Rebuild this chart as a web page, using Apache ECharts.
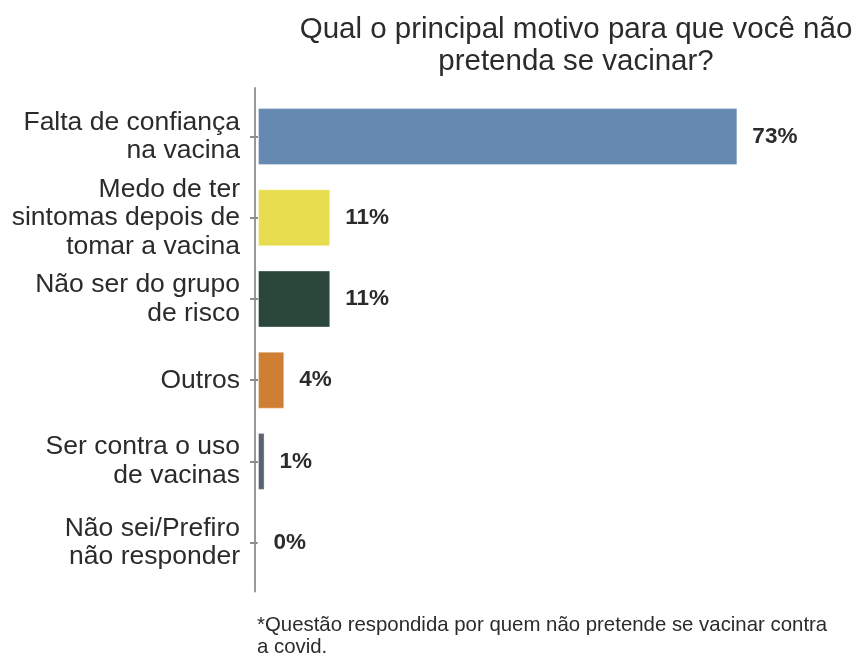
<!DOCTYPE html>
<html>
<head>
<meta charset="utf-8">
<script src="https://cdn.jsdelivr.net/npm/echarts@6/dist/echarts.min.js"></script>
<style>html,body{margin:0;padding:0;background:#fff}#c{width:856px;height:656px}</style>
</head>
<body>
<div id="c"></div>
<script>
const categories = [
  "Falta de confiança\nna vacina",
  "Medo de ter\nsintomas depois de\ntomar a vacina",
  "Não ser do grupo\nde risco",
  "Outros",
  "Ser contra o uso\nde vacinas",
  "Não sei/Prefiro\nnão responder"
];
const values = [73, 11, 11, 4, 1, 0];
const barColors = ["#6689b1", "#e8dc4f", "#2b473c", "#cf7f33", "#5c6370", "#999999"];
const titleText = "Qual o principal motivo para que você não\npretenda se vacinar?";
const noteText = "*Questão respondida por quem não pretende se vacinar contra\na covid.";

const chart = echarts.init(document.getElementById('c'), null, {renderer: 'canvas'});
const FONT = '"Liberation Sans", Arial, sans-serif';
chart.setOption({
  animation: false,
  backgroundColor: '#ffffff',
  textStyle: {fontFamily: FONT},
  title: [{
    text: titleText,
    left: 571, top: 9, textAlign: 'center',
    textStyle: {fontFamily: FONT, fontSize: 29.5, fontWeight: 'normal', color: '#2b2b2b', lineHeight: 32, align: 'center'}
  }, {
    text: noteText,
    left: 252, top: 609,
    textStyle: {fontFamily: FONT, fontSize: 20.4, fontWeight: 'normal', color: '#2b2b2b', lineHeight: 22}
  }],
  grid: [
    {left: 258, top: 96, width: 591, height: 487.2, containLabel: false},
    {left: 255, top: 88, width: 591, height: 503.4, containLabel: false}
  ],
  xAxis: [
    {gridIndex: 0, type: 'value', min: 0, max: 90, show: false},
    {gridIndex: 1, type: 'value', min: 0, max: 1, show: false}
  ],
  yAxis: [
    {
      gridIndex: 0, type: 'category', data: categories, inverse: true, offset: 3,
      axisLine: {show: false},
      axisTick: {show: true, alignWithLabel: true, length: 8, lineStyle: {color: '#8c8c8c', width: 2}},
      axisLabel: {fontFamily: FONT, fontSize: 26.5, color: '#2b2b2b', lineHeight: 28.5, margin: 15, align: 'right'},
      splitLine: {show: false}
    },
    {
      gridIndex: 1, type: 'value', min: 0, max: 1,
      axisLine: {show: true, lineStyle: {color: '#999999', width: 2}},
      axisTick: {show: false}, axisLabel: {show: false}, splitLine: {show: false}
    }
  ],
  series: [{
    type: 'bar',
    xAxisIndex: 0, yAxisIndex: 0,
    data: values.map((v, i) => ({value: v, itemStyle: {color: barColors[i]}})),
    barWidth: 57,
    itemStyle: {borderColor: 'rgba(255,255,255,0.35)', borderWidth: 1},
    label: {
      show: true, position: 'right', distance: 15,
      formatter: p => p.value + '%',
      fontFamily: FONT, fontSize: 22.5, fontWeight: 'bold', color: '#2b2b2b'
    }
  }]
});
</script>
</body>
</html>
